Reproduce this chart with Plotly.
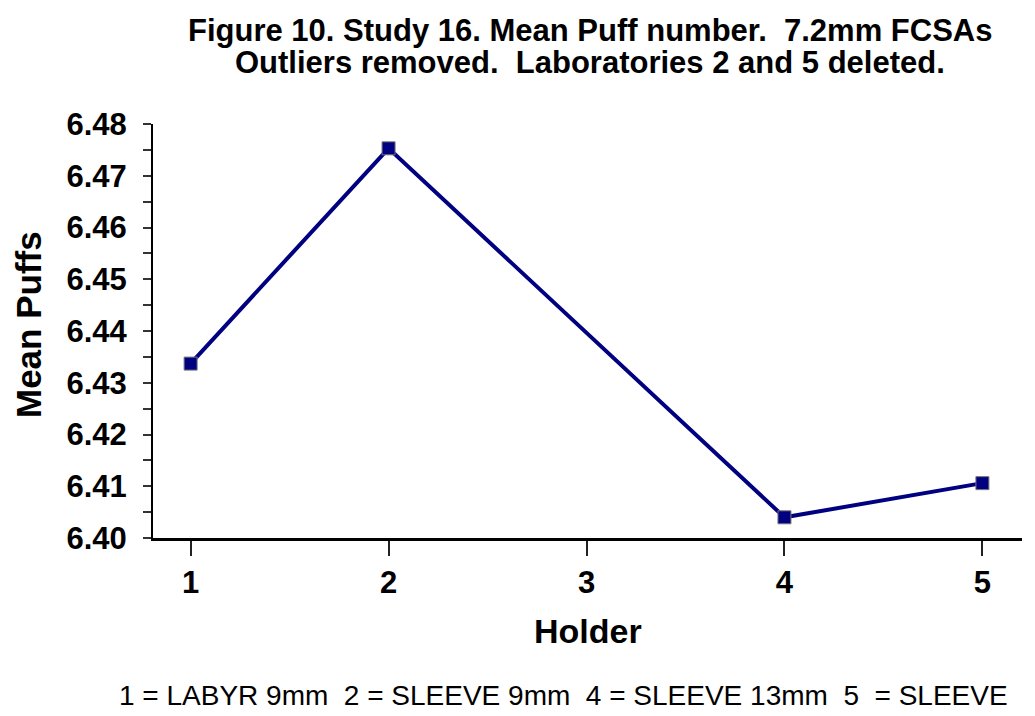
import plotly.graph_objects as go

# Holder number vs mean puffs
holders = [1, 2, 4, 5]
mean_puffs = [6.4337, 6.4753, 6.4040, 6.4106]

x_ticks = [1, 2, 3, 4, 5]
y_ticks = [6.40, 6.41, 6.42, 6.43, 6.44, 6.45, 6.46, 6.47, 6.48]

title_lines = ["Figure 10. Study 16. Mean Puff number.\u00a0 7.2mm FCSAs",
               "Outliers removed.\u00a0 Laboratories 2 and 5 deleted."]
footnote = "1 = LABYR 9mm\u00a0 2 = SLEEVE 9mm\u00a0 4 = SLEEVE 13mm\u00a0 5\u00a0 = SLEEVE"

NAVY = "#000080"
FONT = "Liberation Sans, Arial, sans-serif"

# the page body adds an 8px offset; positions below are window pixels
OFF = 8
W, H = 1035 - OFF, 716 - OFF
L, T = 153 - OFF, 124 - OFF
R, B = W - (1022 - OFF), H - (538 - OFF)
PW, PH = W - L - R, H - T - B


def px(xw):
    return (xw - OFF - L) / PW


def py(yw):
    return (H - B - (yw - OFF)) / PH


fig = go.Figure()
fig.add_trace(go.Scatter(
    x=holders, y=mean_puffs, mode="lines+markers",
    line=dict(color=NAVY, width=4),
    marker=dict(symbol="square", size=13, color=NAVY,
                line=dict(color="#777777", width=1)),
    showlegend=False, hoverinfo="x+y",
))

fig.update_layout(
    width=W, height=H,
    margin=dict(l=L, r=R, t=T, b=B),
    paper_bgcolor="white", plot_bgcolor="white",
    font=dict(family=FONT, color="black"),
    xaxis=dict(
        range=[0.81, 5.2], tickvals=x_ticks, ticktext=[f"<b>{v}</b>" for v in x_ticks],
        tickfont=dict(size=31), ticks="outside", ticklen=15, tickwidth=1.5,
        tickcolor="#222", showgrid=False, zeroline=False, automargin=False,
        showline=True, linecolor="black", linewidth=3, mirror=False,
    ),
    yaxis=dict(
        range=[6.40, 6.48], tickvals=y_ticks,
        ticktext=[f"<b>{v:.2f}</b>" for v in y_ticks],
        tickfont=dict(size=31), ticks="outside", ticklen=8, tickwidth=1.5,
        tickcolor="#333", ticklabelstandoff=10, automargin=False,
        minor=dict(dtick=0.005, ticks="outside", ticklen=8, tickwidth=1.5,
                   tickcolor="#333", showgrid=False),
        showgrid=False, zeroline=False,
        showline=True, linecolor="black", linewidth=2,
    ),
    # inside half of the crossing major ticks
    yaxis2=dict(
        range=[6.40, 6.48], tickvals=y_ticks, overlaying="y", anchor="x",
        side="left", showticklabels=False, ticks="inside", ticklen=17,
        tickwidth=1.5, tickcolor="#333", showgrid=False, zeroline=False,
        showline=False, automargin=False,
    ),
    xaxis2=dict(overlaying="x", anchor="y", side="top", range=[0.81, 5.2],
                showticklabels=False, ticks="", showgrid=False, zeroline=False,
                showline=True, linecolor="black", linewidth=1, automargin=False),
    yaxis3=dict(overlaying="y", anchor="x", side="right", range=[6.40, 6.48],
                showticklabels=False, ticks="", showgrid=False, zeroline=False,
                showline=True, linecolor="black", linewidth=1, automargin=False),
)

# title, two lines placed separately
for yw, line in zip([30, 62], title_lines):
    fig.add_annotation(text=f"<b>{line}</b>", xref="paper", yref="paper",
                       x=px(590), y=py(yw), xanchor="center", yanchor="middle",
                       showarrow=False, font=dict(size=31, color="black"))

fig.add_annotation(text="<b>Holder</b>", xref="paper", yref="paper",
                   x=px(588), y=py(631), xanchor="center", yanchor="middle",
                   showarrow=False, font=dict(size=34, color="black"))
fig.add_annotation(text="<b>Mean Puffs</b>", xref="paper", yref="paper",
                   x=px(28), y=py(325), xanchor="center", yanchor="middle",
                   textangle=-90, showarrow=False,
                   font=dict(size=35, color="black"))

fig.add_annotation(text=footnote, xref="paper", yref="paper",
                   x=px(117), y=py(695), xanchor="left", yanchor="middle",
                   showarrow=False, font=dict(size=28, color="black"))

fig.write_html("out.html")
